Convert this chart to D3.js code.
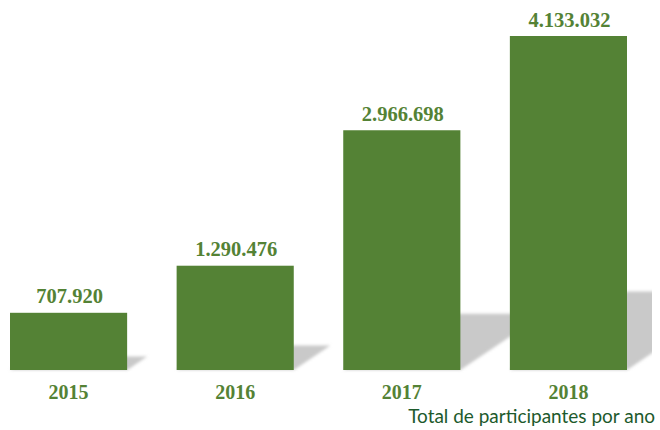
<!DOCTYPE html>
<html><head><meta charset="utf-8">
<script src="https://cdn.jsdelivr.net/npm/d3@7"></script>
<style>html,body{margin:0;padding:0;background:#fff;}svg{display:block;}</style>
</head><body>
<script>
const years = ["2015", "2016", "2017", "2018"];
const participants = [707920, 1290476, 2966698, 4133032];
const valueLabels = ["707.920", "1.290.476", "2.966.698", "4.133.032"];
const caption = "Total de participantes por ano";

const W = 660, H = 430;
const svg = d3.select("body").append("svg").attr("width", W).attr("height", H);
const data = years.map((y, i) => ({year: y, value: participants[i], label: valueLabels[i]}));

const x = d3.scaleBand().domain(years).range([10, 627]).paddingInner(0.297).paddingOuter(0);
const y = d3.scaleLinear().domain([0, 4133032]).range([370, 36]);
const base = y(0);

const defs = svg.append("defs");
defs.append("filter").attr("id", "blur").attr("x", "-20%").attr("y", "-20%").attr("width", "140%").attr("height", "140%")
  .append("feGaussianBlur").attr("stdDeviation", 1.6);
defs.append("clipPath").attr("id", "clip").append("rect").attr("x", 0).attr("y", 0).attr("width", 652).attr("height", H);

const kx = 0.35, ky = 0.235;
svg.append("g").attr("clip-path", "url(#clip)")
  .selectAll("polygon").data(data).join("polygon")
  .attr("filter", "url(#blur)")
  .attr("fill", "#c9c9c9")
  .attr("points", d => {
    const xl = x(d.year), xr = xl + x.bandwidth();
    const h = base - y(d.value);
    const dx = kx * h, dy = ky * h;
    return [[xl, base], [xr, base], [xr + dx, base - dy], [xl + dx, base - dy]].map(p => p.join(",")).join(" ");
  });

svg.append("g").selectAll("rect").data(data).join("rect")
  .attr("x", d => x(d.year)).attr("y", d => y(d.value))
  .attr("width", x.bandwidth()).attr("height", d => base - y(d.value))
  .attr("fill", "#548235");

svg.append("g").selectAll("text").data(data).join("text")
  .attr("x", d => x(d.year) + x.bandwidth() / 2 + 1)
  .attr("y", d => y(d.value) - 9.5)
  .attr("text-anchor", "middle")
  .attr("font-family", "'Liberation Serif', 'Times New Roman', serif")
  .attr("font-weight", "bold").attr("font-size", 20.5)
  .attr("fill", "#548235")
  .text(d => d.label);

const xAxis = d3.axisBottom(x).tickSize(0).tickPadding(0);
const ax = svg.append("g").attr("transform", `translate(0,${base})`).call(xAxis);
ax.select(".domain").remove();
ax.selectAll("text")
  .attr("y", 29).attr("dy", 0)
  .attr("font-family", "'Liberation Serif', 'Times New Roman', serif")
  .attr("font-weight", "bold").attr("font-size", 20)
  .attr("fill", "#548235");

const cap = svg.append("text")
  .attr("x", 655).attr("y", 423)
  .attr("text-anchor", "end")
  .attr("font-family", "Lato, 'Open Sans', sans-serif")
  .attr("font-size", 20)
  .attr("fill", "#1d5a2c")
  .text(caption);
const natural = cap.node().getComputedTextLength();
cap.attr("font-size", Math.min(22, 20 * 247 / natural));
</script>
</body></html>
